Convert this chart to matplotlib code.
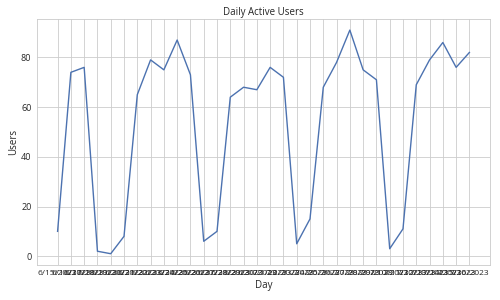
import matplotlib
matplotlib.use('Agg')
import matplotlib.pyplot as plt
import pandas as pd

# Data
days = [f'{d.month}/{d.day}/{d.year}' for d in pd.date_range('2023-06-15', periods=32)]
users = [10, 74, 76, 2, 1, 8, 65, 79, 75, 87, 73, 6, 10, 64, 68, 67,
         76, 72, 5, 15, 68, 78, 91, 75, 71, 3, 11, 69, 79, 86, 76, 82]

# Light grid style
plt.rcParams['font.family'] = ['Open Sans', 'DejaVu Sans']
plt.rcParams['font.size'] = 13
plt.rcParams['axes.titlesize'] = 14
plt.rcParams['axes.labelsize'] = 14
plt.rcParams['xtick.labelsize'] = 12
plt.rcParams['ytick.labelsize'] = 13
plt.rcParams['axes.edgecolor'] = '#cccccc'
plt.rcParams['axes.linewidth'] = 1.25
plt.rcParams['grid.color'] = '#cccccc'
plt.rcParams['xtick.major.size'] = 0
plt.rcParams['ytick.major.size'] = 0
plt.rcParams['text.color'] = '#262626'
plt.rcParams['axes.labelcolor'] = '#262626'
plt.rcParams['xtick.color'] = '#262626'
plt.rcParams['ytick.color'] = '#262626'

fig, ax = plt.subplots(figsize=(10, 6))
ax.plot(days, users, color='#4c72b0', linewidth=2)
ax.grid(True, linewidth=1.2)
ax.set_axisbelow(True)
ax.tick_params(axis='x', pad=8)
ax.tick_params(axis='y', pad=8)

ax.set_title('Daily Active Users')
ax.set_xlabel('Day', labelpad=4)
ax.set_ylabel('Users', labelpad=2)

plt.subplots_adjust(left=0.074, right=0.98, top=0.937, bottom=0.117)
plt.savefig('out.png', dpi=50)
